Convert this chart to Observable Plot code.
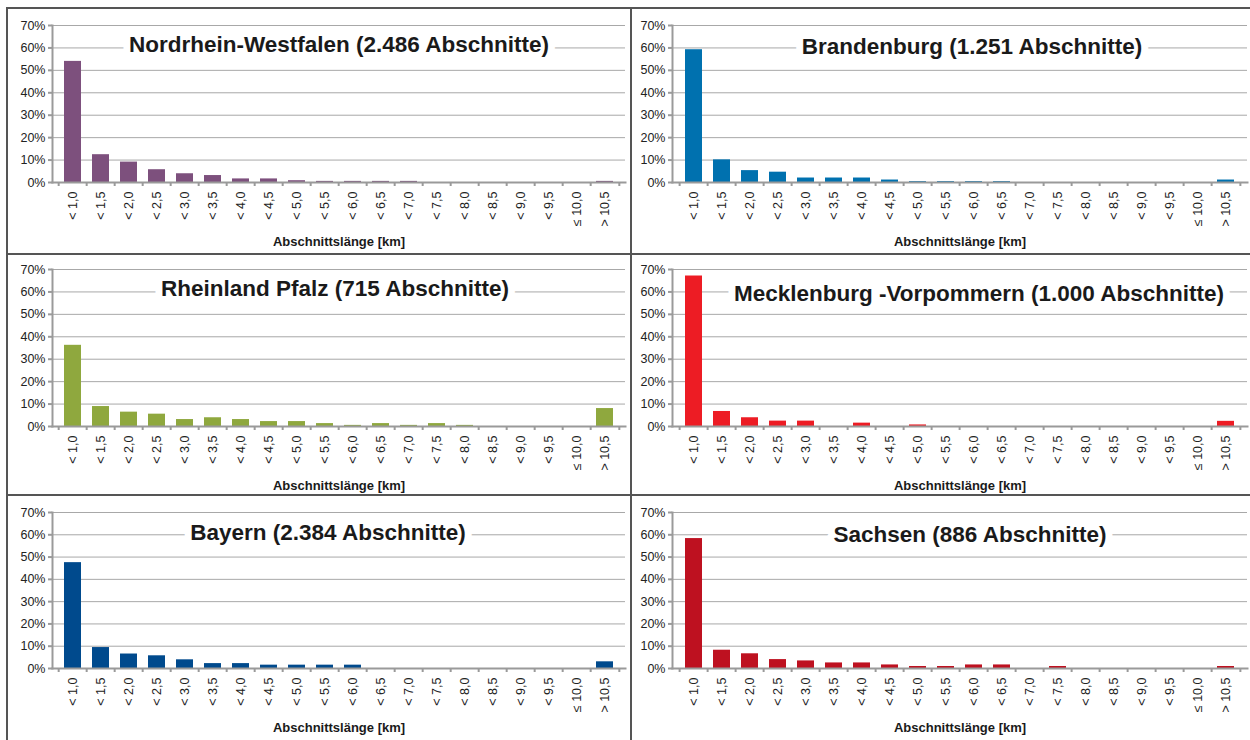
<!DOCTYPE html>
<html><head><meta charset="utf-8">
<script src="https://cdn.jsdelivr.net/npm/d3@7"></script>
<script src="https://cdn.jsdelivr.net/npm/@observablehq/plot@0.6"></script>
<style>
html,body{margin:0;padding:0;background:#fff;}
#root{position:relative;width:1250px;height:740px;overflow:hidden;font-family:"Liberation Sans",Arial,sans-serif;}
.line{position:absolute;background:#555;}
svg{position:absolute;}
</style></head><body><div id="root"></div>
<script>
const categories = ["< 1,0","< 1,5","< 2,0","< 2,5","< 3,0","< 3,5","< 4,0","< 4,5","< 5,0","< 5,5","< 6,0","< 6,5","< 7,0","< 7,5","< 8,0","< 8,5","< 9,0","< 9,5","≤ 10,0","> 10,5"];
const yTicks = [0,10,20,30,40,50,60,70];
const xTitle = "Abschnittslänge [km]";
const titles = [
  "Nordrhein-Westfalen (2.486 Abschnitte)",
  "Brandenburg (1.251 Abschnitte)",
  "Rheinland Pfalz (715 Abschnitte)",
  "Mecklenburg -Vorpommern (1.000 Abschnitte)",
  "Bayern (2.384 Abschnitte)",
  "Sachsen (886 Abschnitte)"
];
const colors = ["#7D507D","#0071AF","#8FA83E","#ED1C24","#004A8D","#BE1120"];
// Anteil der Abschnitte in %
const nrw        = [54.0,12.4,9.1,5.7,3.9,3.1,1.6,1.6,0.8,0.5,0.5,0.5,0.5,0,0,0,0,0,0,0.5];
const brandenburg= [59.2,10.1,5.3,4.6,2.0,2.0,2.0,1.1,0.4,0.4,0.4,0.4,0,0,0,0,0,0,0,1.1];
const rlp        = [36.2,8.9,6.4,5.5,3.1,3.9,3.1,2.2,2.2,1.3,0.5,1.3,0.5,1.3,0.5,0,0,0,0,8.0];
const mv         = [67.1,6.7,3.9,2.4,2.4,0,1.5,0,0.7,0,0,0,0,0,0,0,0,0,0,2.3];
const bayern     = [47.5,9.4,6.5,5.7,3.9,2.2,2.2,1.5,1.5,1.5,1.5,0,0,0,0,0,0,0,0,3.0];
const sachsen    = [58.3,8.2,6.6,4.0,3.4,2.5,2.5,1.6,0.9,0.9,1.6,1.6,0,0.9,0,0,0,0,0,0.9];

const panels = [
  {title: titles[0], values: nrw,         color: colors[0], col:0, row:0, tdx:0,   tdy:-3},
  {title: titles[1], values: brandenburg, color: colors[1], col:1, row:0, tdx:12,  tdy:-1},
  {title: titles[2], values: rlp,         color: colors[2], col:0, row:1, tdx:-4,  tdy:-3},
  {title: titles[3], values: mv,          color: colors[3], col:1, row:1, tdx:19,  tdy:2},
  {title: titles[4], values: bayern,      color: colors[4], col:0, row:2, tdx:-11, tdy:-2},
  {title: titles[5], values: sachsen,     color: colors[5], col:1, row:2, tdx:10,  tdy:0.5}
];
const cols = [{left:8,width:622,ml:44,mr:5},{left:632,width:618,ml:40,mr:3}];
const rows = [{top:9,height:244,mt:16,mb:71},{top:255,height:239,mt:14,mb:68},{top:496,height:244,mt:16,mb:72}];

const root = document.getElementById("root");
function addLine(l,t,w,h){const d=document.createElement("div");d.className="line";Object.assign(d.style,{left:l+"px",top:t+"px",width:w+"px",height:h+"px"});root.appendChild(d);}
addLine(6,7,1244,2);
addLine(6,7,2,733);
addLine(630,7,2,733);
addLine(6,253,1244,2);
addLine(6,494,1244,2);

const axisGray = "#9a9a9a";
function panel(p){
  const c = cols[p.col], r = rows[p.row];
  const table = categories.map((cat,i)=>({cat, v:p.values[i]}));
  const innerW = c.width - c.ml - c.mr;
  const innerH = r.height - r.mt - r.mb;
  const step = innerW / categories.length;
  const pad = 0.38;
  const svg = Plot.plot({
    width: c.width, height: r.height,
    marginLeft: c.ml, marginRight: c.mr, marginTop: r.mt, marginBottom: r.mb,
    style: {fontFamily: "'Liberation Sans', Arial, sans-serif", fontSize: "12.5px", color: "#222", background: "transparent", overflow: "visible"},
    x: {domain: categories, paddingInner: pad, paddingOuter: pad/2, axis: null, label: null},
    y: {domain: [0,70], axis: null, label: null},
    marks: [
      Plot.gridY(yTicks, {stroke: "#a8a8a8", strokeOpacity: 1, strokeWidth: 1}),
      Plot.barY(table, {x:"cat", y:"v", fill: p.color}),
      Plot.frame({anchor:"bottom", stroke: axisGray, strokeWidth: 2}),
      Plot.frame({anchor:"left", stroke: axisGray, strokeWidth: 2}),
      Plot.ruleX(categories, {x: d=>d, y1: 0, y2: 0, insetBottom: -4, dx: -step/2, stroke: axisGray, strokeWidth: 2}),
      Plot.ruleX(categories.slice(-1), {x: d=>d, y1: 0, y2: 0, insetBottom: -4, dx: step/2, stroke: axisGray, strokeWidth: 2}),
      Plot.axisY(yTicks, {tickFormat: d=>d+"%", tickSize: 4, tickPadding: 3, stroke: axisGray, strokeWidth: 2, fontSize: 12.5, label: null}),
      Plot.axisX({tickSize: 0, tickRotate: -90, tickPadding: 9, fontSize: 12.5, label: null}),
      Plot.text([p.title], {frameAnchor: "top", dy: innerH/7 + p.tdy, dx: p.tdx, lineAnchor: "middle", fontSize: 22.5, fontWeight: "bold", fill: "#1a1a1a", stroke: "white", strokeWidth: 14, strokeLinejoin: "round"}),
      Plot.text([xTitle], {frameAnchor: "bottom", dy: 59, lineAnchor: "middle", fontSize: 13, fontWeight: "bold", fill: "#1a1a1a"})
    ]
  });
  svg.style.left = c.left + "px";
  svg.style.top = r.top + "px";
  root.appendChild(svg);
}
panels.forEach(panel);
</script>
</body></html>
